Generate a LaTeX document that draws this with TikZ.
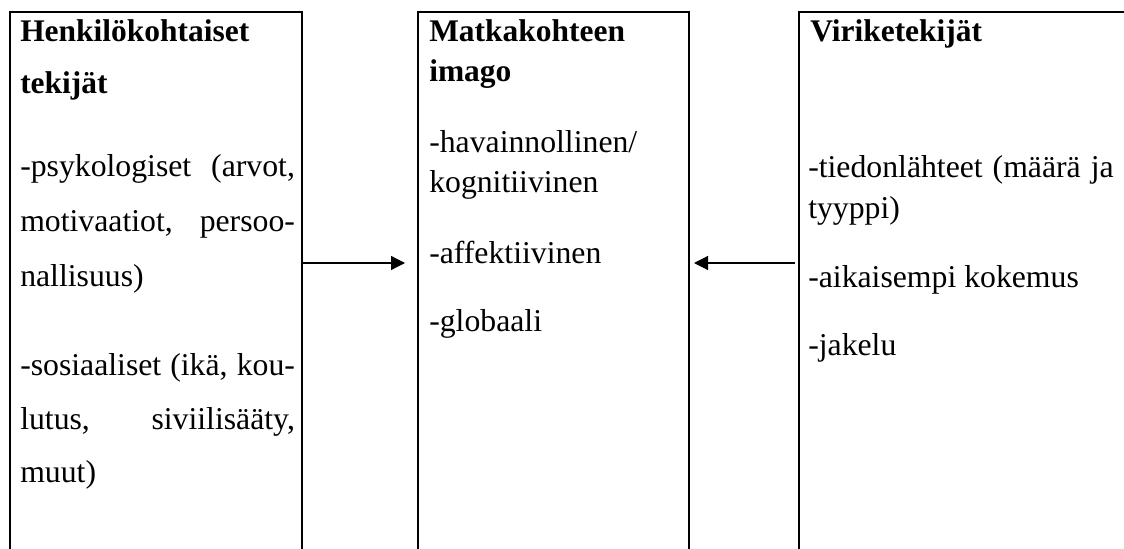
\documentclass[tikz,border=0pt]{standalone}
\usepackage{fontspec}
\setmainfont{Liberation Serif}
\usetikzlibrary{arrows.meta}
\begin{document}
\begin{tikzpicture}[x=0.75pt,y=-0.75pt,
  frame/.style={draw, line width=1.5pt, anchor=north west, minimum height=441pt, inner sep=0pt, outer sep=0pt},
  txt/.style={anchor=base west, inner sep=0pt, font=\fontsize{23.8}{30}\selectfont},
  hd/.style={txt, font=\fontsize{23.6}{30}\selectfont\bfseries},
  arr/.style={line width=0.9pt, -{Triangle[length=10.5pt,width=10.5pt]}}]
\useasboundingbox (0,0) rectangle (1124,549);
% boxes (open at the bottom: they run past the page edge)
\node[frame, minimum width=219pt] (L) at (10,12) {};
\node[frame, minimum width=203.25pt] (M) at (418,12) {};
\node[frame, minimum width=255.75pt] (R) at (799,12) {};
% arrows
\coordinate (ay) at (0,263);
\draw[arr, shorten >=9.75pt] (L.east |- ay) -- (M.west |- ay);
\draw[arr, shorten <=3pt, shorten >=3.75pt] (R.west |- ay) -- (M.east |- ay);
% left column
\node[hd] (l1) at (20,42) {Henkilökohtaiset};
\node[hd] (l2) at (20,94) {tekijät};
\node[txt] (l3) at (20,176) {\makebox[206pt][s]{-psykologiset (arvot,}};
\node[txt] (l4) at (20,231) {\makebox[206pt][s]{motivaatiot, persoo-}};
\node[txt] (l5) at (20,286) {nallisuus)};
\node[txt] (l6) at (20,375) {\makebox[206pt][s]{-sosiaaliset (ikä, kou-}};
\node[txt] (l7) at (20,429) {\makebox[206pt][s]{lutus, siviilisääty,}};
\node[txt] (l8) at (20,482) {muut)};
% middle column
\node[hd] (m1) at (429,42) {Matkakohteen};
\node[hd] (m2) at (429,82) {imago};
\node[txt] (m3) at (429,153) {-havainnollinen/};
\node[txt] (m4) at (429,193) {kognitiivinen};
\node[txt] (m5) at (429,263) {-affektiivinen};
\node[txt] (m6) at (429,331) {-globaali};
% right column
\node[hd] (r1) at (810,42) {Viriketekijät};
\node[txt] (r2) at (808,178) {\makebox[229pt][s]{-tiedonlähteet (määrä ja}};
\node[txt] (r3) at (808,219) {tyyppi)};
\node[txt] (r4) at (808,287) {-aikaisempi kokemus};
\node[txt] (r5) at (808,355) {-jakelu};
\end{tikzpicture}
\end{document}
